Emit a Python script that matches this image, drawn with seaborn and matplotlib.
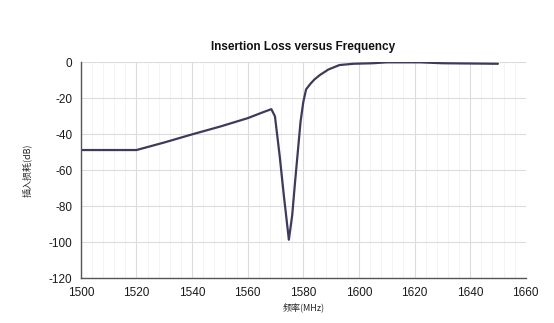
import matplotlib
matplotlib.use("Agg")
import matplotlib.pyplot as plt
import seaborn as sns
import pandas as pd
from matplotlib.ticker import MultipleLocator

freq_mhz = [1500, 1510, 1520, 1530, 1540, 1550, 1560, 1565, 1568.5, 1569.8, 1571.5,
            1573, 1574.8, 1576, 1577, 1578, 1579, 1580, 1581, 1582.5, 1584, 1586,
            1589, 1593, 1598, 1605, 1610, 1622, 1630, 1650]
loss_db = [-48.7, -48.7, -48.7, -44.5, -40, -35.7, -31, -28, -26, -30, -52,
           -74, -98.5, -85, -67, -50, -33, -22, -15, -12, -9.5, -7,
           -4, -1.5, -0.8, -0.5, 0, 0, -0.5, -0.8]
x_ticks = [1500, 1520, 1540, 1560, 1580, 1600, 1620, 1640, 1660]
y_ticks = [0, -20, -40, -60, -80, -100, -120]

df = pd.DataFrame({"freq": freq_mhz, "loss": loss_db})

sns.set_style("white")
plt.rcParams['font.family'] = ['Liberation Sans', 'Noto Sans CJK SC', 'DejaVu Sans']
plt.rcParams['axes.unicode_minus'] = False

fig = plt.figure(figsize=(5.54, 3.23), dpi=100)
ax = fig.add_axes([0.146, 0.138, 0.803, 0.669])

sns.lineplot(data=df, x="freq", y="loss", ax=ax, color="#3d3b5c", linewidth=1.6)

ax.set_xlim(1500, 1660)
ax.set_ylim(-120, 0)
ax.set_xticks(x_ticks)
ax.set_yticks(y_ticks)
ax.xaxis.set_minor_locator(MultipleLocator(4))
ax.grid(True, which="major", color="#dcdcdc", linewidth=0.8)
ax.grid(True, which="minor", axis="x", color="#f3f3f3", linewidth=0.6)
ax.set_axisbelow(True)

for s in ["top", "right"]:
    ax.spines[s].set_visible(False)
for s in ["left", "bottom"]:
    ax.spines[s].set_color("#555555")
    ax.spines[s].set_linewidth(1.0)
ax.tick_params(axis="both", which="major", direction="inout", length=5, width=0.8,
               color="#555555", labelsize=8.5, labelcolor="#1a1a1a")
ax.tick_params(axis="both", which="minor", length=0)

ax.set_title("Insertion Loss versus Frequency", fontsize=8.5, fontweight="bold", pad=9,
             color="#111111")
ax.set_xlabel("频率(MHz)", fontsize=6.5, labelpad=3,
              family=['Noto Sans CJK SC', 'DejaVu Sans'])
ax.set_ylabel("插入损耗(dB)", fontsize=6.5, labelpad=12,
              family=['Noto Sans CJK SC', 'DejaVu Sans'])

fig.savefig("out.png", dpi=100)
